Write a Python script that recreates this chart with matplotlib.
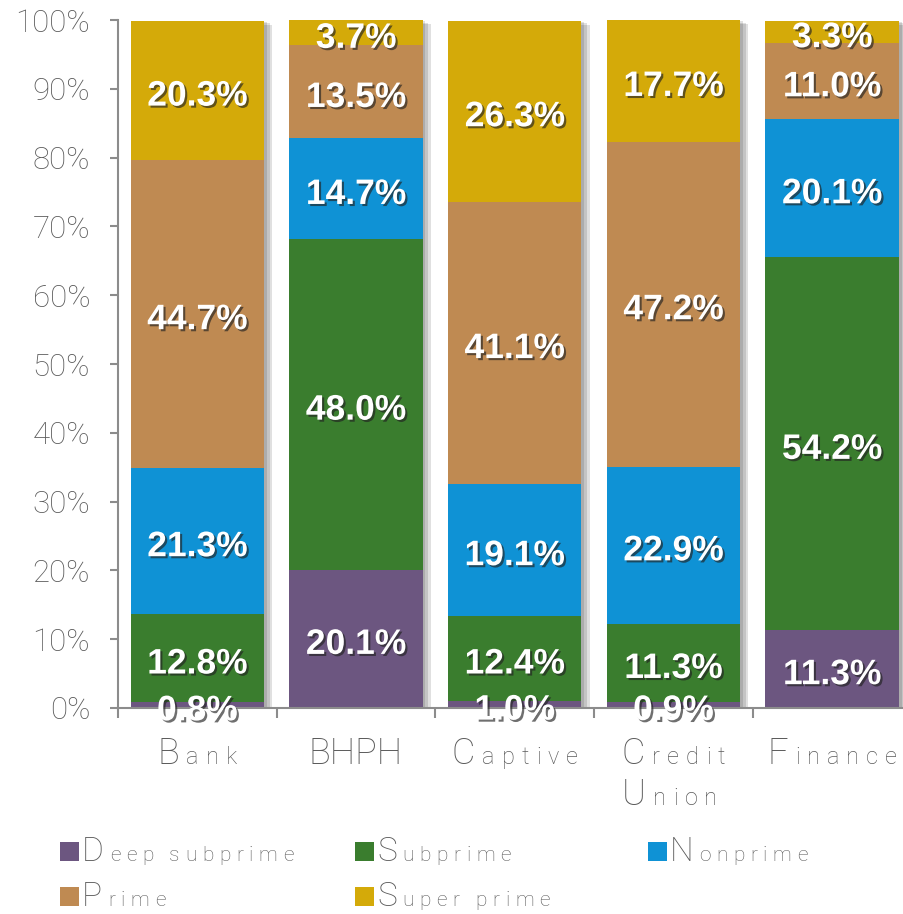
import matplotlib
matplotlib.use("Agg")
import matplotlib.pyplot as plt
import matplotlib.patheffects as pe
from matplotlib.offsetbox import TextArea, HPacker, VPacker, AnnotationBbox, DrawingArea
from matplotlib.patches import Rectangle
import numpy as np

# share of loans by credit tier, per lender type (%)
categories = ["Bank", "BHPH", "Captive", "Credit\nUnion", "Finance"]
tiers = ["Deep subprime", "Subprime", "Nonprime", "Prime", "Super prime"]
deep_subprime = [0.8, 20.1, 1.0, 0.9, 11.3]
subprime = [12.8, 48.0, 12.4, 11.3, 54.2]
nonprime = [21.3, 14.7, 19.1, 22.9, 20.1]
prime = [44.7, 13.5, 41.1, 47.2, 11.0]
super_prime = [20.3, 3.7, 26.3, 17.7, 3.3]
colors = ["#6C5680", "#3A7D2E", "#0F92D5", "#BF8A52", "#D4AA09"]

THIN = "Roboto"
GREY = "#5a5a5a"


def spaced_label(text, big, small, gap=5, color=GREY):
    # leading capitals big, the rest small and letter-spaced
    def ta(s, size):
        return TextArea(s, textprops=dict(size=size, color=color, family=THIN, weight="light"))

    lines = []
    for line in text.split("\n"):
        parts = []
        for wi, word in enumerate(line.split(" ")):
            if wi:
                parts.append(DrawingArea(small * 0.5, 1))
            caps = len(word) - len(word.lstrip("ABCDEFGHIJKLMNOPQRSTUVWXYZ"))
            parts.append(ta(word[:caps], big))
            for ch in word[caps:]:
                parts.append(DrawingArea(gap, 1))
                parts.append(ta(ch, small))
        lines.append(HPacker(children=parts, align="baseline", pad=0, sep=0))
    if len(lines) == 1:
        return lines[0]
    return VPacker(children=lines, align="left", pad=0, sep=4)


fig = plt.figure(figsize=(9.04, 9.14), dpi=100)
ax = fig.add_axes([0.1305, 0.2254, 0.8695, 0.7527])

x = np.arange(len(categories))
width = 0.84
series = [deep_subprime, subprime, nonprime, prime, super_prime]
totals = np.sum(series, axis=0)

# soft drop shadow behind each whole column
for off in [(2, -1), (4, -2), (6, -3)]:
    sh = ax.bar(x, totals, width, color="#777777", zorder=1)
    for p in sh:
        p.set_path_effects([pe.SimplePatchShadow(offset=off, shadow_rgbFace="#000000", alpha=0.12)])

label_fx = [pe.SimplePatchShadow(offset=(1.5, -1.5), shadow_rgbFace="#222222", alpha=0.65),
            pe.Normal()]
bottom = np.zeros(len(categories))
for name, vals, c in zip(tiers, series, colors):
    ax.bar(x, vals, width, bottom=bottom, color=c, zorder=2, label=name)
    for xi, b, v in zip(x, bottom, vals):
        ax.annotate(f"{v:.1f}%", (xi, b + v / 2), xytext=(0, -4), textcoords="offset points",
                    ha="center", va="center", color="white",
                    fontsize=25.5, fontweight="bold", family="Liberation Sans",
                    path_effects=label_fx, zorder=4)
    bottom += np.array(vals)

ax.set_xlim(-0.5, 4.453)
ax.set_ylim(0, 100)
ax.set_yticks(range(0, 101, 10))
ax.set_yticklabels([f"{v}%" for v in range(0, 101, 10)])
for lab in ax.get_yticklabels():
    lab.set_fontfamily(THIN)
    lab.set_fontweight("light")
ax.set_xticks([-0.5, 0.5, 1.5, 2.5, 3.5])
ax.set_xticklabels([])
ax.tick_params(axis="y", length=6, width=1.5, color="#8c8c8c", pad=14,
               labelsize=22.5, labelcolor=GREY)
ax.tick_params(axis="x", length=7, width=1.5, color="#8c8c8c")
for s in ["top", "right"]:
    ax.spines[s].set_visible(False)
for s in ["left", "bottom"]:
    ax.spines[s].set_color("#8c8c8c")
    ax.spines[s].set_linewidth(1.5)

# category names under the axis
for xi, cat in zip(x, categories):
    box = spaced_label(cat, 26, 17, gap=5)
    ab = AnnotationBbox(box, (xi, 0), xycoords=("data", "axes fraction"),
                        xybox=(0, -20), boxcoords="offset points",
                        box_alignment=(0.5, 1), frameon=False, annotation_clip=False)
    ax.add_artist(ab)

# legend, two rows
legend_pos = [(60, 46), (355, 46), (648, 46), (60, 1), (355, 1)]
for name, c, (px, py) in zip(tiers, colors, legend_pos):
    sq = DrawingArea(14, 14)
    sq.add_artist(Rectangle((0, 0), 14, 14, facecolor=c, edgecolor="none"))
    entry = HPacker(children=[sq, DrawingArea(2, 1), spaced_label(name, 24, 15, gap=4)],
                    align="baseline", pad=0, sep=0)
    ab = AnnotationBbox(entry, (px, py), xycoords="figure pixels",
                        box_alignment=(0, 0), frameon=False, annotation_clip=False)
    fig.add_artist(ab)

fig.savefig("out.png", dpi=100)
